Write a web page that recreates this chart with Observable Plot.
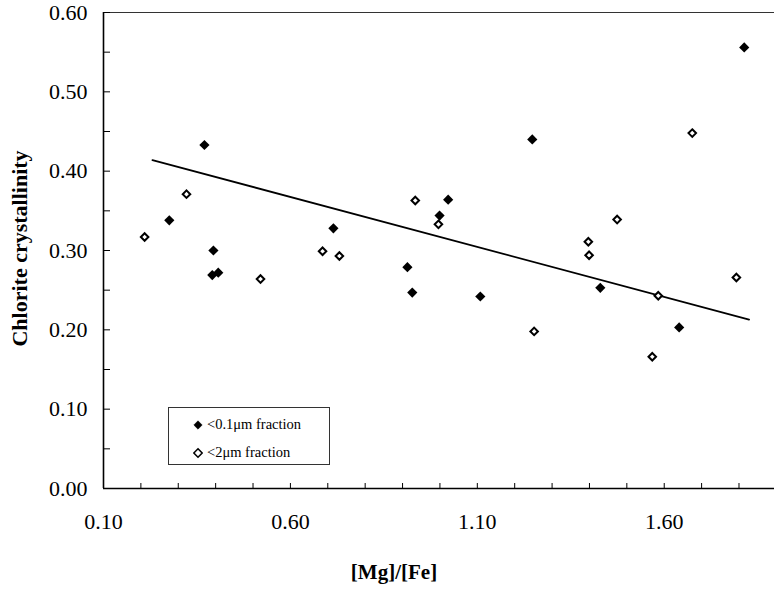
<!DOCTYPE html>
<html>
<head>
<meta charset="utf-8">
<script src="https://cdn.jsdelivr.net/npm/d3@7"></script>
<script src="https://cdn.jsdelivr.net/npm/@observablehq/plot@0.6"></script>
<style>
  html, body { margin: 0; padding: 0; background: white; }
  #wrap { position: relative; width: 774px; height: 591px; font-family: 'Liberation Serif', 'Times New Roman', 'DejaVu Serif', serif; }
  #wrap svg, #wrap svg text { font-family: 'Liberation Serif', 'Times New Roman', 'DejaVu Serif', serif !important; }
  #legend { position: absolute; left: 168px; top: 407px; width: 160px; height: 56px; border: 1px solid #333; background: white; }
  .row { position: absolute; left: 24px; display: flex; align-items: center; font-size: 14.5px; color: #000; }
  .row svg { margin-right: 4px; }
</style>
</head>
<body>
<div id="wrap"></div>
<script>
// Series names
const seriesNames = ["<0.1\u03bcm fraction", "<2\u03bcm fraction"];
// <0.1 µm fraction (filled diamonds)
const fineX = [0.276, 0.370, 0.394, 0.391, 0.407, 0.715, 0.913, 0.926, 0.999, 1.022, 1.108, 1.247, 1.429, 1.640, 1.814];
const fineY = [0.338, 0.433, 0.300, 0.269, 0.272, 0.328, 0.279, 0.247, 0.344, 0.364, 0.242, 0.440, 0.253, 0.203, 0.556];
// <2 µm fraction (open diamonds)
const coarseX = [0.210, 0.322, 0.520, 0.686, 0.731, 0.934, 0.996, 1.252, 1.397, 1.399, 1.474, 1.584, 1.568, 1.793, 1.675];
const coarseY = [0.317, 0.371, 0.264, 0.299, 0.293, 0.363, 0.333, 0.198, 0.311, 0.294, 0.339, 0.243, 0.166, 0.266, 0.448];
// Trend line end points
const trendX = [0.231, 1.827];
const trendY = [0.414, 0.213];
// Ticks
const xMinorTicks = [0.1, 0.2, 0.3, 0.4, 0.5, 0.6, 0.7, 0.8, 0.9, 1.0, 1.1, 1.2, 1.3, 1.4, 1.5, 1.6, 1.7, 1.8];
const xLabelTicks = [0.10, 0.60, 1.10, 1.60];
const yMinorTicks = [0, 0.05, 0.1, 0.15, 0.2, 0.25, 0.3, 0.35, 0.4, 0.45, 0.5, 0.55, 0.6];
const yLabelTicks = [0, 0.1, 0.2, 0.3, 0.4, 0.5, 0.6];
const xTitle = "[Mg]/[Fe]";
const yTitle = "Chlorite crystallinity";

const fine = fineX.map((x, i) => ({x, y: fineY[i]}));
const coarse = coarseX.map((x, i) => ({x, y: coarseY[i]}));
const trend = trendX.map((x, i) => ({x, y: trendY[i]}));
const fmt = d3.format(".2f");
const serif = "'Liberation Serif', 'Times New Roman', 'DejaVu Serif', serif";

const chart = Plot.plot({
  width: 774,
  height: 591,
  marginLeft: 103,
  marginRight: 0,
  marginTop: 12,
  marginBottom: 103,
  x: {domain: [0.1, 1.895]},
  y: {domain: [0, 0.6]},
  style: {fontFamily: serif, background: "white", color: "black"},
  marks: [
    Plot.ruleY([0.6], {stroke: "#333", strokeWidth: 1}),
    Plot.axisY({ticks: yMinorTicks, tickSize: 7, dx: 7, text: null, label: null, stroke: "black"}),
    Plot.axisY({ticks: yLabelTicks, tickSize: 0, tickPadding: 16, tickFormat: fmt, fontSize: 22, label: null, fill: "black"}),
    Plot.axisX({ticks: xMinorTicks, tickSize: 5, dy: -5, text: null, label: null, stroke: "black"}),
    Plot.axisX({ticks: xLabelTicks, tickSize: 0, tickPadding: 25, tickFormat: fmt, fontSize: 22, label: null, fill: "black"}),
    Plot.ruleX([0.1], {stroke: "black", strokeWidth: 1.6}),
    Plot.ruleY([0], {stroke: "black", strokeWidth: 1.6}),
    Plot.line(trend, {x: "x", y: "y", stroke: "black", strokeWidth: 1.8}),
    Plot.dot(fine, {x: "x", y: "y", symbol: "diamond2", fill: "black", r: 4.6}),
    Plot.dot(coarse, {x: "x", y: "y", symbol: "diamond2", fill: "white", stroke: "black", strokeWidth: 2, r: 3.4}),
    Plot.text([yTitle], {frameAnchor: "left", textAnchor: "middle", lineAnchor: "middle", rotate: -90, dx: -84, dy: -2, fontSize: 22, fontWeight: "bold", fill: "black"}),
    Plot.text([xTitle], {frameAnchor: "bottom", textAnchor: "middle", lineAnchor: "middle", dx: -45, dy: 84, fontSize: 21, fontWeight: "bold", fill: "black"})
  ]
});

const wrap = document.getElementById("wrap");
wrap.appendChild(chart);

// Legend overlay (inside the plot area)
const legend = document.createElement("div");
legend.id = "legend";
const rowsTop = [8, 36];
seriesNames.forEach((name, i) => {
  const row = document.createElement("div");
  row.className = "row";
  row.style.top = rowsTop[i] + "px";
  const filled = i === 0;
  row.innerHTML = `<svg width="10" height="16" viewBox="-5 -8 10 16"><path d="M0,-4.2L4.2,0L0,4.2L-4.2,0Z" fill="${filled ? "black" : "white"}" stroke="black" stroke-width="${filled ? 0.5 : 1.6}"/></svg>`;
  const span = document.createElement("span");
  span.textContent = name;
  row.appendChild(span);
  legend.appendChild(row);
});
wrap.appendChild(legend);
</script>
</body>
</html>
